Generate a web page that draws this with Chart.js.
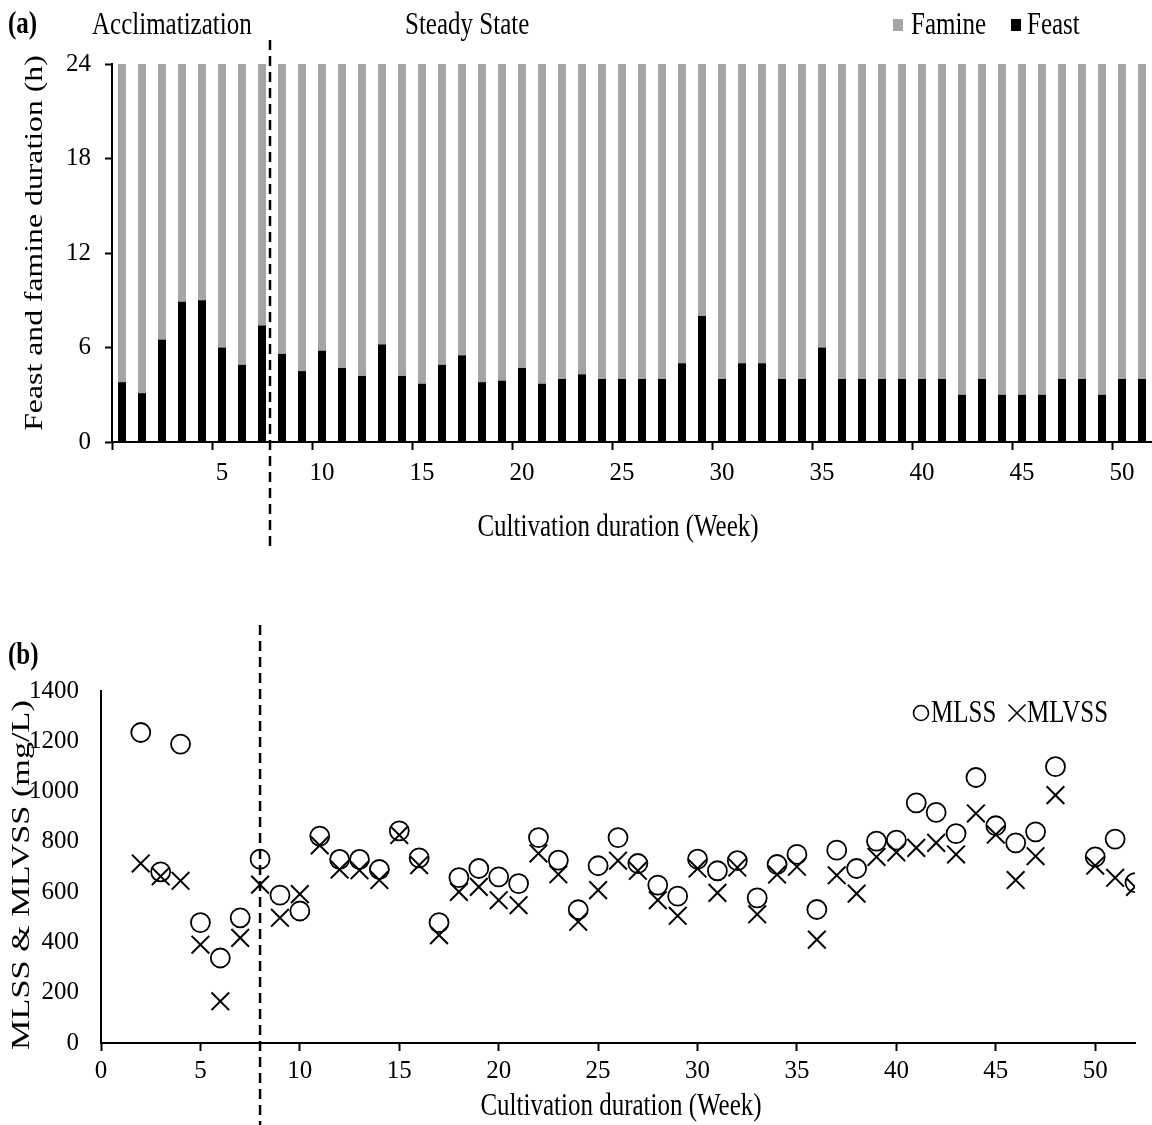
<!DOCTYPE html>
<html>
<head>
<meta charset="utf-8">
<script src="https://cdn.jsdelivr.net/npm/chart.js@4.4.1/dist/chart.umd.min.js"></script>
<style>
  html, body { margin: 0; padding: 0; background: #fff; }
  #wrap { position: relative; width: 1152px; height: 1125px; overflow: hidden; }
  #wrap canvas { position: absolute; left: 0; }
  #feast-chart  { top: 0; }
  #solids-chart { top: 600px; }
</style>
</head>
<body>
<div id="wrap">
  <canvas id="feast-chart"  width="1152" height="560" style="width:1152px;height:560px"></canvas>
  <canvas id="solids-chart" width="1152" height="525" style="width:1152px;height:525px"></canvas>
</div>
<script>
// ── Panel (a): daily feast / famine split per cultivation week ────────────────
const BAR_WEEKS = [0, 1, 2, 3, 4, 5, 6, 7, 8, 9, 10, 11, 12, 13, 14, 15, 16, 17, 18, 19, 20, 21, 22, 23, 24, 25,
                   26, 27, 28, 29, 30, 31, 32, 33, 34, 35, 36, 37, 38, 39, 40, 41, 42, 43, 44, 45, 46, 47, 48, 49, 50, 51];
const FEAST  = [3.8, 3.1, 6.5, 8.9, 9.0, 6.0, 4.9, 7.4, 5.6, 4.5, 5.8, 4.7, 4.2, 6.2, 4.2, 3.7, 4.9, 5.5, 3.8, 3.9,
                4.7, 3.7, 4.0, 4.3, 4.0, 4.0, 4.0, 4.0, 5.0, 8.0, 4.0, 5.0, 5.0, 4.0, 4.0, 6.0, 4.0, 4.0, 4.0, 4.0,
                4.0, 4.0, 3.0, 4.0, 3.0, 3.0, 3.0, 4.0, 4.0, 3.0, 4.0, 4.0];
const FAMINE = [20.2, 20.9, 17.5, 15.1, 15.0, 18.0, 19.1, 16.6, 18.4, 19.5, 18.2, 19.3, 19.8, 17.8, 19.8, 20.3, 19.1, 18.5, 20.2, 20.1,
                19.3, 20.3, 20.0, 19.7, 20.0, 20.0, 20.0, 20.0, 19.0, 16.0, 20.0, 19.0, 19.0, 20.0, 20.0, 18.0, 20.0, 20.0, 20.0, 20.0,
                20.0, 20.0, 21.0, 20.0, 21.0, 21.0, 21.0, 20.0, 20.0, 21.0, 20.0, 20.0];
const HOUR_TICKS = [0, 6, 12, 18, 24];
const SPLIT_BAR  = 7.4;   // acclimatization ends just after the 8th bar

// ── Panel (b): mixed liquor solids ────────────────────────────────────────────
const SS_WEEKS = [2, 3, 4, 5, 6, 7, 8, 9, 10, 11, 12, 13, 14, 15, 16, 17, 18, 19, 20, 21, 22, 23, 24, 25, 26,
                  27, 28, 29, 30, 31, 32, 33, 34, 35, 36, 37, 38, 39, 40, 41, 42, 43, 44, 45, 46, 47, 48, 50, 51, 52];
const MLSS  = [1235, 681, 1189, 479, 338, 498, 731, 588, 525, 823, 730, 730, 690, 844, 736, 479, 658, 694, 661, 634, 817, 727, 530, 705, 817,
               714, 628, 584, 731, 685, 725, 577, 710, 750, 531, 767, 694, 803, 807, 955, 917, 833, 1056, 864, 796, 840, 1099, 740, 811, 638];
const MLVSS = [714, 663, 645, 391, 166, 418, 630, 498, 592, 786, 690, 687, 648, 827, 707, 429, 601, 621, 568, 548, 754, 671, 482, 608, 725,
               685, 568, 506, 694, 597, 698, 512, 670, 701, 411, 667, 594, 740, 758, 776, 796, 750, 913, 829, 648, 743, 986, 705, 657, 621];
const WEEK_TICKS = [0, 5, 10, 15, 20, 25, 30, 35, 40, 45, 50];
const SOLIDS_TICKS = [0, 200, 400, 600, 800, 1000, 1200, 1400];
const SPLIT_WEEK = 8;

const SERIF = '"Liberation Serif", "Times New Roman", serif';
const FONT  = `25px ${SERIF}`;
const BOLD  = `bold 25px ${SERIF}`;
const FAMINE_GRAY = '#a5a5a5';
const TALL = 1.3;    // labels in this figure are drawn a bit taller than wide

Chart.defaults.font.family = SERIF;
Chart.defaults.font.size   = 25;
Chart.defaults.color       = '#000';

function dashedSplit(chart, x, top, bottom) {
  const ctx = chart.ctx;
  ctx.save();
  ctx.strokeStyle = '#000';
  ctx.lineWidth = 2.5;
  ctx.setLineDash([10, 6]);
  ctx.beginPath();
  ctx.moveTo(x, top);
  ctx.lineTo(x, bottom);
  ctx.stroke();
  ctx.restore();
}

// horizontal label, stretched vertically
function label(ctx, str, x, y, font, align = 'left') {
  ctx.save();
  ctx.font = font;
  ctx.textAlign = align;
  ctx.textBaseline = 'middle';
  ctx.fillStyle = '#000';
  ctx.translate(x, y);
  ctx.scale(1, TALL);
  ctx.fillText(str, 0, 0);
  ctx.restore();
}

// rotated axis title, stretched along its length
function sideTitle(ctx, str, x, y, stretch) {
  ctx.save();
  ctx.font = FONT;
  ctx.textAlign = 'center';
  ctx.textBaseline = 'middle';
  ctx.fillStyle = '#000';
  ctx.translate(x, y);
  ctx.rotate(-Math.PI / 2);
  ctx.scale(stretch, 1.05);
  ctx.fillText(str, 0, 0);
  ctx.restore();
}

// headings, legend, axis titles and phase divider for panel (a)
const feastDecor = {
  id: 'feastDecor',
  afterDraw(chart) {
    const ctx = chart.ctx;
    label(ctx, '(a)', 8, 25, BOLD);
    label(ctx, 'Acclimatization', 92, 25, FONT);
    label(ctx, 'Steady State', 405, 25, FONT);
    ctx.save();
    ctx.fillStyle = FAMINE_GRAY;
    ctx.fillRect(893, 19, 10, 12);
    ctx.fillStyle = '#000';
    ctx.fillRect(1011, 19, 10, 12);
    ctx.restore();
    label(ctx, 'Famine', 911, 25, FONT);
    label(ctx, 'Feast', 1027, 25, FONT);
    label(ctx, 'Cultivation duration (Week)', 618, 527, FONT, 'center');
    sideTitle(ctx, 'Feast and famine duration (h)', 35, 243, 1.27);
    dashedSplit(chart, chart.scales.x.getPixelForValue(SPLIT_BAR), 40, 552);
  }
};

// heading, legend, axis titles and phase divider for panel (b)
const solidsDecor = {
  id: 'solidsDecor',
  afterDraw(chart) {
    const ctx = chart.ctx;
    label(ctx, '(b)', 8, 56, BOLD);
    ctx.save();
    ctx.strokeStyle = '#000';
    ctx.fillStyle = 'rgba(0,0,0,0)';
    ctx.lineWidth = 1.6;
    Chart.helpers.drawPoint(ctx, { pointStyle: 'circle', radius: 7.5, borderWidth: 1.6 }, 921, 113);
    Chart.helpers.drawPoint(ctx, { pointStyle: 'crossRot', radius: 12, borderWidth: 1.6 }, 1017, 113);
    ctx.restore();
    label(ctx, 'MLSS', 931, 113, FONT);
    label(ctx, 'MLVSS', 1027, 113, FONT);
    label(ctx, 'Cultivation duration (Week)', 621, 506, FONT, 'center');
    sideTitle(ctx, 'MLSS & MLVSS (mg/L)', 22, 275, 1.37);
    dashedSplit(chart, chart.scales.x.getPixelForValue(SPLIT_WEEK), 25, 525);
  }
};

new Chart(document.getElementById('feast-chart'), {
  type: 'bar',
  data: {
    labels: BAR_WEEKS,
    datasets: [
      { label: 'Feast',  data: FEAST,  backgroundColor: '#000',      barPercentage: 0.4, categoryPercentage: 1 },
      { label: 'Famine', data: FAMINE, backgroundColor: FAMINE_GRAY, barPercentage: 0.4, categoryPercentage: 1 },
    ]
  },
  options: {
    responsive: false,
    animation: false,
    devicePixelRatio: 1,
    layout: { padding: { left: 0, top: 64, right: 0, bottom: 15 } },
    plugins: { legend: { display: false }, tooltip: { enabled: false } },
    scales: {
      x: {
        stacked: true,
        offset: true,
        border: { color: '#000', width: 2 },
        grid: {
          offset: true, drawOnChartArea: false, tickLength: 8, tickWidth: 2,
          tickColor: c => (c.index % 5 === 0 ? '#000' : 'rgba(0,0,0,0)')
        },
        ticks: {
          autoSkip: false, maxRotation: 0, padding: 8,
          callback(v) { const w = this.getLabelForValue(v); return w % 5 === 0 && w > 0 ? String(w) : ''; }
        },
        afterFit(s) { s.height = 103; }
      },
      y: {
        stacked: true,
        min: 0, max: 24,
        border: { color: '#000', width: 2 },
        grid: { drawOnChartArea: false, tickLength: 7, tickWidth: 2, tickColor: '#000' },
        afterBuildTicks(s) { s.ticks = HOUR_TICKS.map(v => ({ value: v })); },
        ticks: { padding: 14 },
        afterFit(s) { s.width = 112; }
      }
    }
  },
  plugins: [feastDecor]
});

new Chart(document.getElementById('solids-chart'), {
  type: 'scatter',
  data: {
    datasets: [
      { label: 'MLSS',  data: SS_WEEKS.map((w, i) => ({ x: w, y: MLSS[i] })),
        pointStyle: 'circle', pointRadius: 9.5, borderColor: '#000', backgroundColor: 'rgba(0,0,0,0)', borderWidth: 1.8 },
      { label: 'MLVSS', data: SS_WEEKS.map((w, i) => ({ x: w, y: MLVSS[i] })),
        pointStyle: 'crossRot', pointRadius: 12.5, borderColor: '#000', backgroundColor: '#000', borderWidth: 2 },
    ]
  },
  options: {
    responsive: false,
    animation: false,
    devicePixelRatio: 1,
    layout: { padding: { left: 0, top: 91, right: 17, bottom: 5 } },
    plugins: { legend: { display: false }, tooltip: { enabled: false } },
    scales: {
      x: {
        type: 'linear', min: 0, max: 52,
        border: { color: '#000', width: 2 },
        grid: { drawOnChartArea: false, tickLength: 8, tickWidth: 2, tickColor: '#000' },
        afterBuildTicks(s) { s.ticks = WEEK_TICKS.map(v => ({ value: v })); },
        ticks: { padding: 5, maxRotation: 0, callback: v => String(v) },
        afterFit(s) { s.height = 77; }
      },
      y: {
        min: 0, max: 1400,
        border: { color: '#000', width: 2 },
        grid: { drawOnChartArea: false, drawTicks: false },
        afterBuildTicks(s) { s.ticks = SOLIDS_TICKS.map(v => ({ value: v })); },
        ticks: { padding: 22, callback: v => String(v) },
        afterFit(s) { s.width = 101; }
      }
    }
  },
  plugins: [solidsDecor]
});
</script>
</body>
</html>
